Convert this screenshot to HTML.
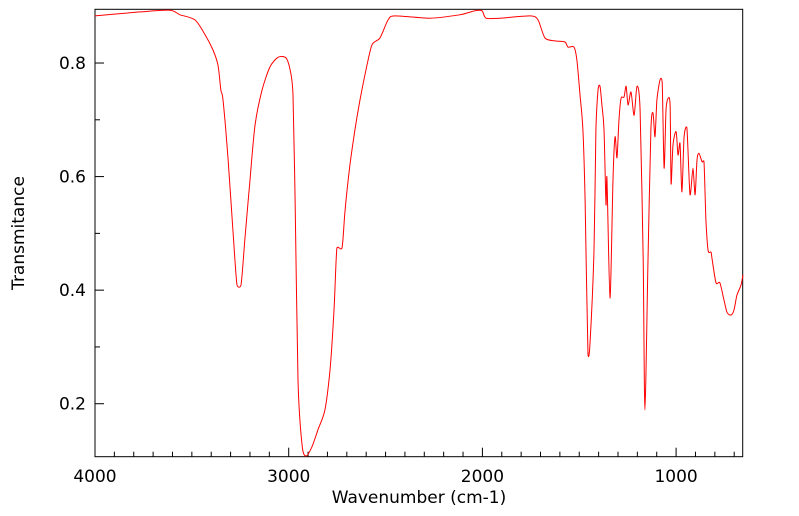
<!DOCTYPE html>
<html><head><meta charset="utf-8"><style>
body{margin:0;background:#fff}
svg{display:block;font-family:"DejaVu Sans","Liberation Sans",sans-serif}
</style></head><body>
<svg id="chart" width="799" height="516" xmlns="http://www.w3.org/2000/svg">
<rect x="95" y="9.3" width="647.7" height="447.4" fill="#fff" stroke="#000" stroke-width="1"/>
<g id="ticks"></g>
<path id="line" fill="none" stroke="#ff0000" stroke-width="1"/>
<text x="419" y="503" font-size="17" text-anchor="middle">Wavenumber (cm-1)</text>
<text x="24" y="233" font-size="17" text-anchor="middle" transform="rotate(-90 24 233)">Transmitance</text>
</svg>
<script>
const wavenumbers=[4000,3768,3613,3561,3484,3432,3391,3365,3350,3339,3313,3288,3267,3246,3226,3200,3174,3138,3097,3055,3014,2993,2978,2967,2952,2931,2911,2880,2849,2813,2787,2766,2751,2725,2709,2684,2658,2632,2601,2570,2529,2487,2451,2271,2116,2038,2002,1981,1909,1754,1713,1677,1625,1574,1558,1527,1512,1496,1481,1470,1455,1445,1424,1414,1403,1393,1383,1372,1362,1357,1341,1326,1315,1305,1295,1284,1269,1258,1248,1233,1217,1202,1186,1170,1161,1145,1130,1119,1109,1099,1083,1072,1062,1052,1041,1031,1026,1016,1000,990,980,970,959,944,928,913,902,892,882,866,856,846,835,820,815,794,774,753,737,717,701,686,665,655];
const transmittance=[0.883,0.89,0.893,0.885,0.876,0.85,0.823,0.796,0.752,0.735,0.63,0.506,0.409,0.409,0.49,0.594,0.69,0.752,0.793,0.81,0.809,0.788,0.744,0.559,0.242,0.127,0.108,0.124,0.154,0.189,0.259,0.365,0.474,0.474,0.541,0.62,0.682,0.735,0.788,0.832,0.844,0.876,0.883,0.879,0.885,0.892,0.892,0.879,0.879,0.883,0.876,0.844,0.839,0.837,0.828,0.828,0.805,0.744,0.682,0.559,0.286,0.303,0.47,0.682,0.752,0.759,0.726,0.682,0.55,0.6,0.386,0.594,0.67,0.633,0.7,0.738,0.74,0.759,0.726,0.749,0.708,0.759,0.717,0.453,0.189,0.453,0.682,0.712,0.67,0.735,0.77,0.766,0.615,0.717,0.738,0.726,0.587,0.656,0.679,0.638,0.659,0.573,0.668,0.686,0.568,0.615,0.568,0.629,0.641,0.626,0.626,0.524,0.47,0.467,0.457,0.413,0.413,0.383,0.361,0.356,0.365,0.391,0.409,0.427];
const xTickLabels=[4000,3000,2000,1000];
const yTickLabels=[0.2,0.4,0.6,0.8];
const X0=95,X1=742.7,Y0=9.3,Y1=456.7;
const xMax=4000,xMin=4000-(X1-X0)/0.1937;
const yMax=0.8946,yMin=0.1067;
const sx=w=>X0+(xMax-w)/(xMax-xMin)*(X1-X0);
const sy=t=>Y0+(yMax-t)/(yMax-yMin)*(Y1-Y0);
const NS='http://www.w3.org/2000/svg';
const pts=wavenumbers.map((w,i)=>[sx(w),sy(transmittance[i])]);
let d='M'+pts[0][0].toFixed(1)+','+pts[0][1].toFixed(1);
for(let i=0;i<pts.length-1;i++){
  const p0=pts[Math.max(0,i-1)],p1=pts[i],p2=pts[i+1],p3=pts[Math.min(pts.length-1,i+2)];
  const k=1/6*0.8;
  let c1y=p1[1]+(p2[1]-p0[1])*k,c2y=p2[1]-(p3[1]-p1[1])*k;
  const lo=Math.min(p1[1],p2[1]),hi=Math.max(p1[1],p2[1]);
  c1y=Math.min(Math.max(c1y,lo-3),hi+3);c2y=Math.min(Math.max(c2y,lo-3),hi+3);
  const c1x=p1[0]+(p2[0]-p0[0])*k,c2x=p2[0]-(p3[0]-p1[0])*k;
  d+=' C'+c1x.toFixed(1)+','+c1y.toFixed(1)+' '+c2x.toFixed(1)+','+c2y.toFixed(1)+' '+p2[0].toFixed(1)+','+p2[1].toFixed(1);
}
document.getElementById('line').setAttribute('d',d);
const g=document.getElementById('ticks');
function ln(x1,y1,x2,y2){const l=document.createElementNS(NS,'line');


l.setAttribute('x1',x1);l.setAttribute('y1',y1);l.setAttribute('x2',x2);l.setAttribute('y2',y2);l.setAttribute('stroke','#000');g.appendChild(l);}
for(let w=4000;w>xMin;w-=100){const x=sx(w);const major=w%1000===0;ln(x,Y1,x,Y1-(major?9:5));}
for(let t=0.2;t<yMax;t+=0.1){const y=sy(t);const major=Math.round(t*10)%2===0;ln(X0,y,X0+(major?9:5),y);}
xTickLabels.forEach(v=>{const t=document.createElementNS(NS,'text');


t.setAttribute('x',sx(v));t.setAttribute('y',482);t.setAttribute('font-size','17');t.setAttribute('text-anchor','middle');t.textContent=v;g.appendChild(t);});
yTickLabels.forEach(v=>{const t=document.createElementNS(NS,'text');


t.setAttribute('x',86);t.setAttribute('y',sy(v)+6);t.setAttribute('font-size','17');t.setAttribute('text-anchor','end');t.textContent=v.toFixed(1);g.appendChild(t);});
</script>
</body></html>
